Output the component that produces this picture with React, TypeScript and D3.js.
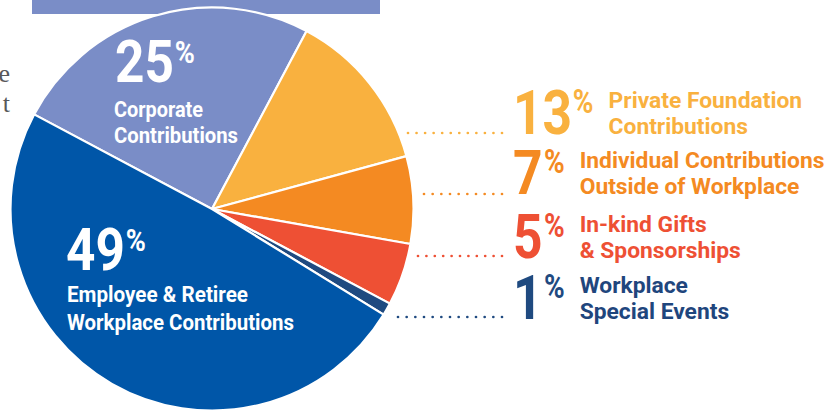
import React from "react";
import * as d3 from "d3";

const categories = [
  "Corporate Contributions",
  "Private Foundation Contributions",
  "Individual Contributions Outside of Workplace",
  "In-kind Gifts & Sponsorships",
  "Workplace Special Events",
  "Employee & Retiree Workplace Contributions",
];
const values = [25, 13, 7, 5, 1, 49];
const sliceColors = ["#7a8dc7", "#f9b13f", "#f48a22", "#ee5034", "#1f4a80", "#0056a8"];

// right-side legend rows (indices into categories)
const legendIdx = [1, 2, 3, 4];
const legendLines = [
  ["Private Foundation", "Contributions"],
  ["Individual Contributions", "Outside of Workplace"],
  ["In-kind Gifts", "& Sponsorships"],
  ["Workplace", "Special Events"],
];
const legendTextColors = ["#f9b13f", "#f48a22", "#ee5034", "#1f467d"];

// inside labels
const insideLines = [
  ["Corporate", "Contributions"],
  ["Employee & Retiree", "Workplace Contributions"],
];

const W = 838;
const H = 411;
const cx = 212;
const cy = 209;
const R = 201.5;
const startDeg = -62;

const FONT = "Roboto, 'Noto Sans', sans-serif";

function BigNum({ x, baseline, num, color, size, pctSize, sx }: any) {
  const digitAdv = 0.562 * size * sx * String(num).length;
  const capH = 0.711 * size;
  const pctBase = baseline - capH + 0.711 * pctSize;
  return (
    <g>
      <g transform={`translate(${x},${baseline}) scale(${sx},1)`}>
        <text x={0} y={0} fontSize={size} fontWeight={700} fill={color} fontFamily={FONT}>
          {num}
        </text>
      </g>
      <g transform={`translate(${x + digitAdv + 2},${pctBase}) scale(0.85,1)`}>
        <text x={0} y={0} fontSize={pctSize} fontWeight={700} fill={color} fontFamily={FONT}>
          %
        </text>
      </g>
    </g>
  );
}

export default function App() {
  const pie = d3
    .pie<number>()
    .sort(null)
    .value((d) => d)
    .startAngle((startDeg * Math.PI) / 180)
    .endAngle((startDeg * Math.PI) / 180 + Math.PI * 2);
  const arcs = pie(values);
  const arc = d3.arc<d3.PieArcDatum<number>>().innerRadius(0).outerRadius(R);

  // legend layout
  const rowBaselines = [134, 194, 258, 319];
  const leaderStart = [408, 424, 418, 398];
  const leaderEnd = 502;
  const leaderY = [133, 194, 256, 317];
  const numX = 513;
  const numSize = 62;
  const numSx = 0.83;
  const pctSize = 33;
  const labelSize = 22.8;

  return (
    <svg
      width={W}
      height={H}
      style={{ position: "absolute", left: 0, top: 0, background: "#fff" }}
    >
      {/* partial paragraph text at left edge */}
      <text x={10} y={82} textAnchor="end" fontSize={26} fill="#58595b" fontFamily="'Liberation Serif', serif">
        e
      </text>
      <text x={10} y={112} textAnchor="end" fontSize={26} fill="#58595b" fontFamily="'Liberation Serif', serif">
        t
      </text>

      {/* top bar */}
      <rect x={32} y={0} width={348} height={14} fill="#7a8dc7" />

      {/* pie */}
      <g transform={`translate(${cx},${cy})`}>
        {arcs.map((a, i) => (
          <path key={categories[i]} d={arc(a) || ""} fill={sliceColors[i]} stroke="#fff" strokeWidth={2.2} strokeLinejoin="round" />
        ))}
      </g>

      {/* inside labels */}
      <BigNum x={115} baseline={82} num={values[0]} color="#fff" size={59} pctSize={32} sx={0.87} />
      <text x={114} y={117} fontSize={22} fontWeight={700} fill="#fff" fontFamily={FONT} textLength={89} lengthAdjust="spacingAndGlyphs">
        {insideLines[0][0]}
      </text>
      <text x={114} y={143} fontSize={22} fontWeight={700} fill="#fff" fontFamily={FONT} textLength={124} lengthAdjust="spacingAndGlyphs">
        {insideLines[0][1]}
      </text>

      <BigNum x={66} baseline={270} num={values[5]} color="#fff" size={59} pctSize={32} sx={0.87} />
      <text x={67} y={302} fontSize={22} fontWeight={700} fill="#fff" fontFamily={FONT} textLength={181} lengthAdjust="spacingAndGlyphs">
        {insideLines[1][0]}
      </text>
      <text x={67} y={330} fontSize={22} fontWeight={700} fill="#fff" fontFamily={FONT} textLength={227} lengthAdjust="spacingAndGlyphs">
        {insideLines[1][1]}
      </text>

      {/* right legend */}
      {legendIdx.map((ci, r) => {
        const color = legendTextColors[r];
        const dotColor = sliceColors[ci];
        const nDigits = String(values[ci]).length;
        const pctX = numX + 0.562 * numSize * numSx * nDigits + 2;
        const labelX = pctX + 0.74 * pctSize * 0.85 + 15;
        const base = rowBaselines[r];
        const n = Math.round((leaderEnd - leaderStart[r]) / 8.8);
        const step = (leaderEnd - leaderStart[r]) / n;
        const dots = d3.range(n + 1).map((k) => leaderStart[r] + k * step);
        return (
          <g key={categories[ci]}>
            {dots.map((dx, k) => (
              <circle key={k} cx={dx} cy={leaderY[r]} r={1.35} fill={dotColor} />
            ))}
            <BigNum x={numX} baseline={base} num={values[ci]} color={dotColor} size={numSize} pctSize={pctSize} sx={numSx} />
            <text x={labelX} y={base - 26} fontSize={labelSize} fontWeight={700} fill={color} fontFamily={FONT}>
              {legendLines[r][0]}
            </text>
            <text x={labelX} y={base} fontSize={labelSize} fontWeight={700} fill={color} fontFamily={FONT}>
              {legendLines[r][1]}
            </text>
          </g>
        );
      })}
    </svg>
  );
}
